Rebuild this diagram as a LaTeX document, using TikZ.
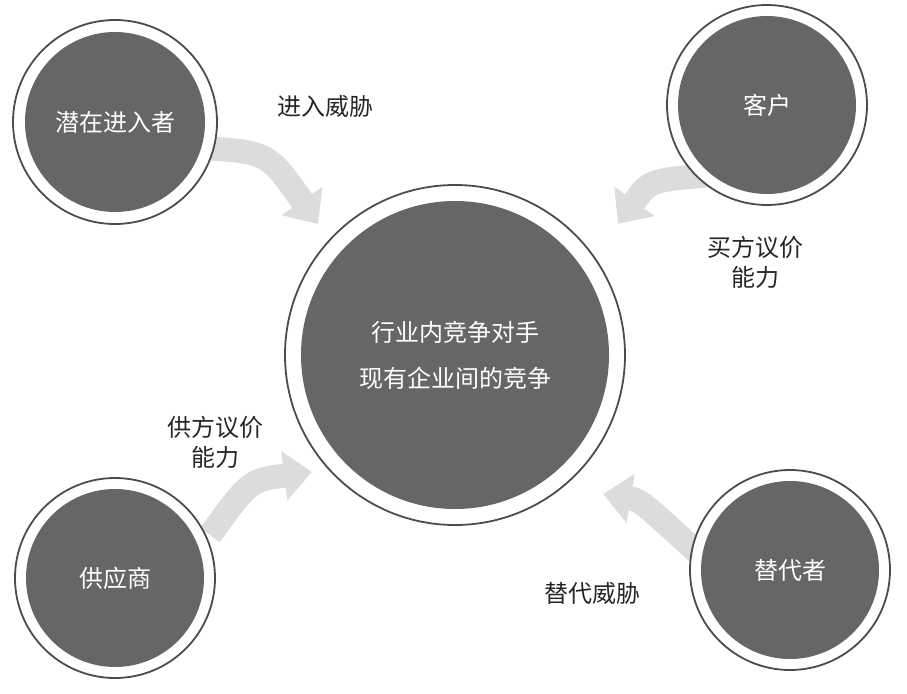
\documentclass[tikz,border=0pt]{standalone}
\usepackage{fontspec}
\setmainfont{Noto Sans CJK SC}
\usetikzlibrary{arrows.meta}
\definecolor{dk}{HTML}{666666}
\definecolor{lt}{HTML}{DCDCDC}
\begin{document}
\begin{tikzpicture}[x=1pt,y=-1pt,
  ring/.style={circle,draw=black!70,line width=1.8pt,fill=white,minimum size=#1},
  core/.style={circle,fill=dk,text=white,font=\fontsize{24}{30}\selectfont,align=center,minimum size=#1},
  lab/.style={font=\fontsize{24}{30}\selectfont,align=center,text=black!85},
  flow/.style={lt,line width=24pt,-{Triangle[width=48pt,length=28pt]}}]
\useasboundingbox (0,0) rectangle (907,693);
% arrows
\coordinate (a1s) at (200,148); \coordinate (a1e) at (318,224);
\coordinate (a2s) at (715,175); \coordinate (a2e) at (618,224);
\coordinate (a3s) at (210,535); \coordinate (a3e) at (312,472);
\coordinate (a4s) at (700,555); \coordinate (a4e) at (603,494);
\draw[flow] (a1s) .. controls (268,152) .. (a1e);
\draw[flow] (a2s) .. controls (650,180) .. (a2e);
\draw[flow] (a3s) .. controls (250,480) .. (a3e);
\draw[flow] (a4s) .. controls (640,500) .. (a4e);
% circles
\node[ring=340pt] (cr) at (455,355) {};
\node[core=308pt] (c) at (455,355) {行业内竞争对手\\[16pt]现有企业间的竞争};
\node[ring=204pt] (r1) at (115,122) {};
\node[core=180pt] (n1) at (115,122) {潜在进入者};
\node[ring=200pt] (r2) at (767,105) {};
\node[core=178pt] (n2) at (767,105) {客户};
\node[ring=200pt] (r3) at (115,578) {};
\node[core=178pt] (n3) at (115,578) {供应商};
\node[ring=200pt] (r4) at (790,570) {};
\node[core=178pt] (n4) at (790,570) {替代者};
% labels
\node[lab] (l1) at (325,106) {进入威胁};
\node[lab] (l2) at (755,262) {买方议价\\能力};
\node[lab] (l3) at (215,442) {供方议价\\能力};
\node[lab] (l4) at (592,593) {替代威胁};
\end{tikzpicture}
\end{document}
